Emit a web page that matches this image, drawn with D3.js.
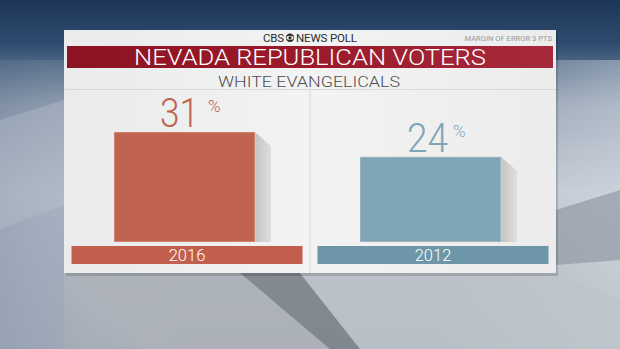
<!DOCTYPE html>
<html><head><meta charset="utf-8">
<script src="https://cdn.jsdelivr.net/npm/d3@7/dist/d3.min.js"></script>
<style>html,body{margin:0;padding:0;background:#999;}svg{display:block;}</style>
</head><body>
<script>
const categories = ["2016", "2012"];
const values = [31, 24];
const barColors = ["#c0634f", "#7fa6b7"];
const labelColors = ["#c25f4c", "#6d97a8"];
const title = "NEVADA REPUBLICAN VOTERS";
const subtitle = "WHITE EVANGELICALS";
const header = ["CBS", "NEWS POLL"];
const moe = "MARGIN OF ERROR 3 PTS";

const W = 620, H = 349;
const svg = d3.select("body").append("svg").attr("width", W).attr("height", H);
const defs = svg.append("defs");

// background
const bg = defs.append("linearGradient").attr("id","bg").attr("x1",0).attr("y1",0).attr("x2",0).attr("y2",1);
[[0,"#1d3556"],[0.12,"#2d4b6e"],[0.3,"#8a98ab"],[0.55,"#b8c0ca"],[1,"#a4abb4"]].forEach(s=>bg.append("stop").attr("offset",s[0]).attr("stop-color",s[1]));
svg.append("rect").attr("width",W).attr("height",H).attr("fill","url(#bg)");
const side = defs.append("linearGradient").attr("id","side").attr("x1",0).attr("y1",0).attr("x2",1).attr("y2",0);
[[0,"#6a7f98",0.3],[0.3,"#ffffff",0],[0.7,"#ffffff",0],[1,"#e6ecf2",0.4]].forEach(s=>side.append("stop").attr("offset",s[0]).attr("stop-color",s[1]).attr("stop-opacity",s[2]));
svg.append("rect").attr("y",60).attr("width",W).attr("height",H-60).attr("fill","url(#side)");
// geometric shapes
const shapes = [
  {pts:[[0,230],[64,205],[64,349],[0,349]], c:"#9aa6ba", o:0.5},
  {pts:[[70,273],[240,273],[330,349],[140,349]], c:"#aeb3ba", o:0.8},
  {pts:[[240,273],[300,273],[360,349],[330,349]], c:"#72777e", o:0.7},
  {pts:[[300,273],[556,273],[620,300],[620,349],[360,349]], c:"#bec4cb", o:0.8},
  {pts:[[556,210],[620,190],[620,260],[556,265]], c:"#858c97", o:0.55},
  {pts:[[0,120],[64,100],[64,200],[0,230]], c:"#aeb8c6", o:0.5}
];
svg.selectAll("polygon.bgshape").data(shapes).join("polygon").attr("class","bgshape")
  .attr("points",d=>d.pts.map(p=>p.join(",")).join(" ")).attr("fill",d=>d.c).attr("opacity",d=>d.o);

// panel
const P = {x0:64, x1:556, y0:30, y1:273};
svg.append("rect").attr("x",P.x0+2).attr("y",P.y0+3).attr("width",P.x1-P.x0).attr("height",P.y1-P.y0).attr("fill","#000").attr("opacity",0.15);
const pg = defs.append("linearGradient").attr("id","pg").attr("x1",0).attr("y1",0).attr("x2",1).attr("y2",0);
[[0,"#e9ebec"],[0.5,"#f3f3f3"],[1,"#ececec"]].forEach(s=>pg.append("stop").attr("offset",s[0]).attr("stop-color",s[1]));
svg.append("rect").attr("x",P.x0).attr("y",P.y0).attr("width",P.x1-P.x0).attr("height",P.y1-P.y0).attr("fill","url(#pg)");

// header
const hdr = svg.append("g").attr("font-family","Roboto, sans-serif").attr("font-size",11.5).attr("fill","#2c2c2c");
hdr.append("text").attr("x",284).attr("y",42).attr("text-anchor","end").attr("textLength",21).text(header[0]);
hdr.append("text").attr("x",296).attr("y",42).attr("text-anchor","start").attr("textLength",61).text(header[1]);
const eye = svg.append("g").attr("transform","translate(290,37.8)");
eye.append("circle").attr("r",4.2).attr("fill","#2c2c2c");
eye.append("ellipse").attr("rx",3.6).attr("ry",2).attr("fill","#f2f2f2");
eye.append("circle").attr("r",1.6).attr("fill","#2c2c2c");
svg.append("text").attr("x",552).attr("y",41).attr("text-anchor","end").attr("font-family","Roboto, sans-serif")
  .attr("font-size",7.6).attr("fill","#9a9a9a").text(moe);

// title bar
const tg = defs.append("linearGradient").attr("id","tg").attr("x1",0).attr("y1",0).attr("x2",1).attr("y2",0);
[[0,"#8c1322"],[0.5,"#9b1a2b"],[1,"#a62a3c"]].forEach(s=>tg.append("stop").attr("offset",s[0]).attr("stop-color",s[1]));
svg.append("rect").attr("x",67).attr("y",46).attr("width",486).attr("height",22).attr("fill","url(#tg)");
svg.append("text").attr("x",310).attr("y",64.5).attr("text-anchor","middle").attr("font-family","Roboto, sans-serif")
  .attr("font-weight",300).attr("font-size",21.5).attr("textLength",352).attr("lengthAdjust","spacingAndGlyphs")
  .attr("fill","#ffffff").text(title);
svg.append("text").attr("x",309).attr("y",86.5).attr("text-anchor","middle").attr("font-family","Roboto, sans-serif")
  .attr("font-weight",300).attr("font-size",15.5).attr("textLength",182).attr("lengthAdjust","spacingAndGlyphs")
  .attr("fill","#4e4e4e").text(subtitle);
svg.append("line").attr("x1",P.x0).attr("x2",P.x1).attr("y1",89.5).attr("y2",89.5).attr("stroke","#d8d8d8");
svg.append("line").attr("x1",310).attr("x2",310).attr("y1",90).attr("y2",P.y1).attr("stroke","#d6d6d6");

// scales
const x = d3.scaleBand().domain(categories).range([P.x0, P.x1]);
const y = d3.scaleLinear().domain([0, 31]).range([242, 132]);
const barW = 141, labW = 231;

const g = svg.selectAll("g.cat").data(categories.map((c,i)=>({c, v:values[i], i}))).join("g").attr("class","cat")
  .attr("transform", d=>`translate(${x(d.c)+x.bandwidth()/2},0)`);

// shadow
const sg = defs.append("linearGradient").attr("id","sg").attr("x1",0).attr("y1",0).attr("x2",1).attr("y2",0);
[[0,"#c4c4c4"],[1,"#dedede"]].forEach(s=>sg.append("stop").attr("offset",s[0]).attr("stop-color",s[1]));
g.append("polygon").attr("points", d=>{
  const x1 = -2.5 + barW/2, t = y(d.v), b = y(0);
  return [[x1,t],[x1+16,t+14],[x1+16,b],[x1,b]].map(p=>p.join(",")).join(" ");
}).attr("fill","url(#sg)");
g.append("rect").attr("x",-2.5-barW/2).attr("y",d=>y(d.v)).attr("width",barW).attr("height",d=>y(0)-y(d.v))
  .attr("fill",d=>barColors[d.i]).attr("stroke","#f4e6e2").attr("stroke-opacity",0.5);

// value labels
g.append("text").attr("x",d=>d.i===0?12:15).attr("y",d=>y(d.v)-5).attr("text-anchor","end")
  .attr("font-family","Roboto, sans-serif").attr("font-weight",300).attr("font-size",41)
  .attr("fill",d=>barColors[d.i]).attr("textLength",d=>d.i===0?39:41).attr("lengthAdjust","spacingAndGlyphs").text(d=>d.v);
g.append("text").attr("x",d=>d.i===0?21:20).attr("y",d=>y(d.v)-20).attr("text-anchor","start")
  .attr("font-family","Roboto, sans-serif").attr("font-weight",300).attr("font-size",17)
  .attr("fill",d=>barColors[d.i]).text("%");

// category label bars
g.append("rect").attr("x",-labW/2).attr("y",246).attr("width",labW).attr("height",18).attr("fill",d=>labelColors[d.i]);
g.append("text").attr("x",0).attr("y",261).attr("text-anchor","middle").attr("font-family","Roboto, sans-serif")
  .attr("font-weight",300).attr("font-size",16.5).attr("fill","#ffffff").text(d=>d.c);
</script>
</body></html>
